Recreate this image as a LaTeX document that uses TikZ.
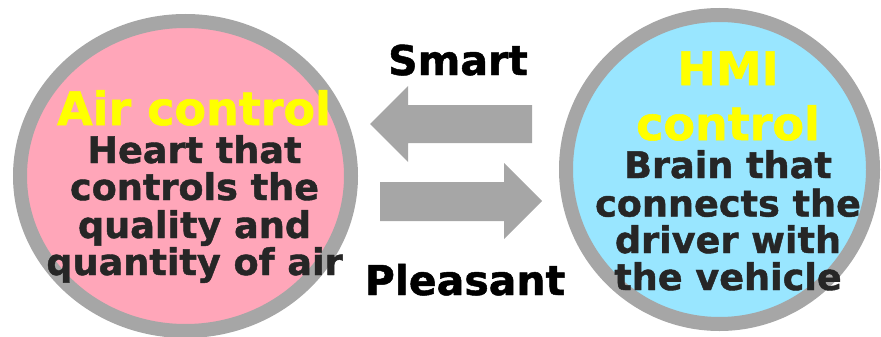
\documentclass[tikz,border=0pt]{standalone}
\usepackage{fontspec}
\setmainfont{DejaVu Sans}[BoldFeatures={FakeBold=1.2}]
\usetikzlibrary{shapes.geometric}
\definecolor{ringgray}{HTML}{A6A6A6}
\definecolor{pinkfill}{HTML}{FFA6B9}
\definecolor{bluefill}{HTML}{99E6FF}
\definecolor{darktext}{HTML}{262626}
\definecolor{titleyellow}{HTML}{FFFF00}
\begin{document}
\begin{tikzpicture}[x=1pt,y=-1pt,
  bubble/.style={ellipse, draw=ringgray, line width=14pt, inner sep=0pt, outer sep=0pt},
  titletext/.style={anchor=base, inner sep=0pt, text=titleyellow, font=\bfseries\fontsize{46}{50}\selectfont},
  bodytext/.style={anchor=base, inner sep=0pt, text=darktext, font=\bfseries\fontsize{36.6}{40}\selectfont},
  labeltext/.style={anchor=base, inner sep=0pt, text=black, font=\bfseries\fontsize{41}{45}\selectfont},
  blockarrow/.style={fill=ringgray, draw=none}]
\useasboundingbox (0,0) rectangle (881,337);
% circles
\node[bubble, fill=pinkfill, minimum width=331pt, minimum height=310pt] (air) at (185.5,176) {};
\node[bubble, fill=bluefill, minimum width=307pt, minimum height=309pt] (hmi) at (719.5,169.5) {};
% left texts
\node[titletext] (airtitle) at (194,125) {Air control};
\node[bodytext] (a1) at (194.5,163) {Heart that};
\node[bodytext] (a2) at (194.5,200) {controls the};
\node[bodytext] (a3) at (194.5,238) {quality and};
\node[bodytext] (a4) at (194.5,275) {quantity of air};
% right texts
\node[titletext] (hmititle1) at (728,85) {HMI};
\node[titletext] (hmititle2) at (728,140) {control};
\node[bodytext] (h1) at (728,178) {Brain that};
\node[bodytext] (h2) at (728,216.5) {connects the};
\node[bodytext] (h3) at (728,253) {driver with};
\node[bodytext] (h4) at (728,290) {the vehicle};
% labels
\node[labeltext] (smart) at (458,75) {Smart};
\node[labeltext] (pleasant) at (465,295) {Pleasant};
% block arrows
\fill[blockarrow] (370,124) -- (408,86) -- (408,105) -- (532,105) -- (532,143) -- (408,143) -- (408,162) -- cycle;
\fill[blockarrow] (542,201) -- (504,163) -- (504,182) -- (380,182) -- (380,221) -- (504,221) -- (504,239) -- cycle;
\end{tikzpicture}
\end{document}
